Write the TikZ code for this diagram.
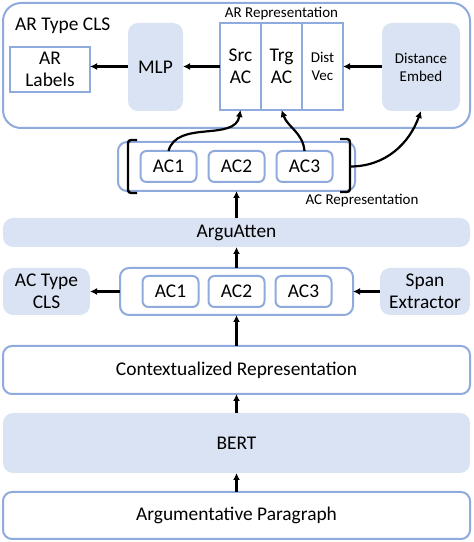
\documentclass[tikz,border=0pt]{standalone}
\usepackage{fontspec}
\setmainfont{Carlito}
\usetikzlibrary{arrows.meta, positioning, calc}
\definecolor{CBlue}{HTML}{8FAADC}
\definecolor{CFill}{HTML}{DAE3F3}
\newcommand{\mainfs}{\fontsize{19.4}{22.5}\selectfont}
\newcommand{\smallfs}{\fontsize{15}{18}\selectfont}
\tikzset{
    layer/.style={rectangle, rounded corners=9pt, draw=CBlue, fill=white, line width=2pt, align=center, font=\mainfs, inner sep=0pt, outer sep=0pt},
    module/.style={rectangle, rounded corners=10pt, fill=CFill, align=center, font=\mainfs, inner sep=0pt, outer sep=0pt},
    acunit/.style={layer, rounded corners=6pt, minimum width=56pt, minimum height=31pt},
    cell/.style={rectangle, draw=CBlue, fill=white, line width=2pt, align=center, font=\mainfs, minimum width=41pt, minimum height=87pt, inner sep=0pt, outer sep=0pt},
    flatarrow/.style={-{Latex[length=7pt, width=7pt]}, draw=black, line width=2.2pt},
    bracket/.style={draw=black, line width=2.4pt, rounded corners=3pt},
    labeltext/.style={font=\smallfs, inner sep=0pt}
}
\begin{document}
\begin{tikzpicture}[x=1pt, y=1pt, node distance=19pt and 30pt]
    \useasboundingbox (0,0) rectangle (474,542);
    % Nodes
    \node[layer, minimum width=467pt, minimum height=47pt] (para) at (236.5,26.5) {Argumentative Paragraph};
    \node[module, minimum width=467pt, minimum height=60pt, above=of para] (bert) {BERT};
    \node[layer, minimum width=467pt, minimum height=48pt, above=of bert] (ctx) {Contextualized Representation};
    \node[layer, minimum width=233pt, minimum height=47pt, above=31pt of ctx] (acbox) {};
    \node[acunit] (ac2) at (acbox) {AC2};
    \node[acunit, left=10pt of ac2] (ac1) {AC1};
    \node[acunit, right=11pt of ac2] (ac3) {AC3};
    \node[module, minimum width=87pt, minimum height=47pt, left=30pt of acbox] (actype) {AC Type\\CLS};
    \node[module, minimum width=90pt, minimum height=47pt, right=27pt of acbox] (span) {Span\\Extractor};
    \node[module, minimum width=467pt, minimum height=29pt, above=21pt of acbox] (argu) {ArguAtten};
    \node[layer, minimum width=237pt, minimum height=49pt, above=27pt of argu] (acrep) {};
    \node[acunit] (rac2) at (acrep) {AC2};
    \node[acunit, left=12pt of rac2] (rac1) {AC1};
    \node[acunit, right=12pt of rac2] (rac3) {AC3};
    \node[labeltext] (acreptitle) at (362,341) {AC Representation};

    % AR type classifier
    \node[layer, rounded corners=18pt, minimum width=467pt, minimum height=125pt] (arcls) at (236.5,476.5) {};
    \node[font=\mainfs, inner sep=0pt, anchor=west] (arclstitle) at (15,516) {AR Type CLS};
    \node[cell] (src) at (240.5,475.5) {Src\\AC};
    \node[cell, right=0pt of src] (trg) {Trg\\AC};
    \node[cell, font=\smallfs, right=0pt of trg] (dist) {Dist\\Vec};
    \node[labeltext, above=3pt of trg] (arreptitle) {AR Representation};
    \node[module, minimum width=55pt, minimum height=88pt] (mlp) at (155.5,475) {MLP};
    \node[cell, minimum width=80pt, minimum height=45pt] (arlab) at (50,472.5) {AR\\Labels};
    \node[module, font=\smallfs, minimum width=78pt, minimum height=88pt] (dembed) at (421,475) {Distance\\Embed};

    % Brackets
    \draw[bracket] ($(acrep.north west)+(19,2)$) -- ($(acrep.north west)+(10,2)$) -- ($(acrep.south west)+(10,-2)$) -- ($(acrep.south west)+(19,-2)$);
    \draw[bracket] ($(acrep.north east)+(-15,3)$) -- ($(acrep.north east)+(-5,3)$) -- ($(acrep.south east)+(-5,-1)$) -- ($(acrep.south east)+(-15,-1)$);
    \coordinate (brk) at ($(acrep.east)+(-5,0)$);

    % Paths
    \draw[flatarrow] (para) -- (bert);
    \draw[flatarrow] (bert) -- (ctx);
    \draw[flatarrow] (ctx) -- (acbox);
    \draw[flatarrow] (acbox) -- (argu);
    \draw[flatarrow] (argu) -- (acrep);
    \draw[flatarrow] (acbox) -- (actype);
    \draw[flatarrow] (span) -- (acbox);
    \draw[flatarrow] (src.west) -- (mlp.east |- src.west);
    \draw[flatarrow] (mlp.west |- src.west) -- (arlab.east |- src.west);
    \draw[flatarrow] (dembed.west |- src.west) -- (dist.east |- src.west);
    \draw[flatarrow] (rac1.north) to[out=75, in=-100] (src.south);
    \draw[flatarrow] (rac3.north) to[out=95, in=-70] (trg.south);
    \draw[flatarrow] (brk) to[out=0, in=-110] (dembed.south);
\end{tikzpicture}
\end{document}
